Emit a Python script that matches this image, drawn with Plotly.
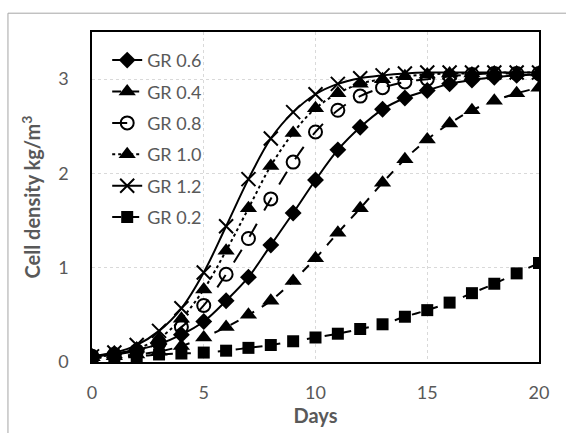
import plotly.graph_objects as go

days = list(range(0, 21))

gr_06 = [0.06, 0.09, 0.13, 0.19, 0.29, 0.43, 0.65, 0.90, 1.24, 1.58, 1.93,
         2.25, 2.49, 2.68, 2.80, 2.88, 2.95, 2.99, 3.02, 3.04, 3.05]
gr_04 = [0.05, 0.06, 0.08, 0.11, 0.17, 0.26, 0.37, 0.50, 0.65, 0.86, 1.10,
         1.37, 1.63, 1.90, 2.15, 2.36, 2.53, 2.67, 2.77, 2.85, 2.91]
gr_08 = [0.06, 0.08, 0.12, 0.20, 0.37, 0.60, 0.93, 1.31, 1.73, 2.12, 2.44,
         2.67, 2.82, 2.91, 2.97, 3.00, 3.03, 3.05, 3.06, 3.06, 3.06]
gr_10 = [0.05, 0.08, 0.14, 0.25, 0.46, 0.77, 1.18, 1.63, 2.08, 2.43, 2.69,
         2.85, 2.95, 3.00, 3.03, 3.05, 3.06, 3.06, 3.07, 3.07, 3.07]
gr_12 = [0.06, 0.10, 0.18, 0.33, 0.57, 0.95, 1.44, 1.94, 2.37, 2.65, 2.84,
         2.95, 3.01, 3.04, 3.06, 3.07, 3.07, 3.07, 3.07, 3.07, 3.07]
gr_02 = [0.04, 0.05, 0.06, 0.08, 0.09, 0.10, 0.12, 0.15, 0.18, 0.22, 0.26,
         0.30, 0.35, 0.40, 0.48, 0.55, 0.63, 0.73, 0.83, 0.94, 1.05]

x_ticks = [0, 5, 10, 15, 20]
y_ticks = [0, 1, 2, 3]

FONT = "Lato"
GRAY = "#595959"

series = [
    ("GR 0.6", gr_06, "solid", "diamond", 13, 0),
    ("GR 0.4", gr_04, "dash", "triangle-up", 15, 0),
    ("GR 0.8", gr_08, "longdash", "circle-open", 13, 2),
    ("GR 1.0", gr_10, "dot", "triangle-up", 15, 0),
    ("GR 1.2", gr_12, "solid", "x-thin-open", 14, 2),
    ("GR 0.2", gr_02, "dash", "square", 12, 0),
]

fig = go.Figure()
for i, (name, vals, dash, sym, size, lw) in enumerate(series):
    fig.add_trace(go.Scatter(
        x=days, y=vals, name=name, legendgroup=f"g{i}",
        mode="lines+markers",
        line=dict(color="black", width=2, dash=dash, shape="spline"),
        marker=dict(symbol=sym, size=size, color="black",
                    line=dict(color="black", width=lw)),
    ))

fig.update_layout(
    width=566, height=433,
    margin=dict(l=92, r=27, t=32, b=67),
    paper_bgcolor="white", plot_bgcolor="white",
    font=dict(family=FONT, color=GRAY, size=18),
    showlegend=True,
    legend=dict(
        x=0.034, y=0.97, xanchor="left", yanchor="top",
        bgcolor="rgba(255,255,255,0)", font=dict(size=18, color=GRAY),
        tracegroupgap=5, itemwidth=30,
    ),
    xaxis=dict(
        range=[0, 20], tickvals=x_ticks, showgrid=True,
        gridcolor="#d9d9d9", griddash="dot", gridwidth=1,
        showline=True, linecolor="black", linewidth=1.5, mirror=True,
        ticks="", zeroline=False, ticklabelstandoff=14,
        tickfont=dict(size=18, color=GRAY),
        title=dict(text="<b>Days</b>", font=dict(size=20, color=GRAY), standoff=4),
    ),
    yaxis=dict(
        range=[0, 3.5], tickvals=y_ticks, showgrid=True,
        gridcolor="#d9d9d9", griddash="dot", gridwidth=1,
        showline=True, linecolor="black", linewidth=1.5, mirror=True,
        ticks="", zeroline=False, ticklabelstandoff=18,
        tickfont=dict(size=18, color=GRAY),
        title=dict(text="<b>Cell density kg/m<sup>3</sup></b>",
                   font=dict(size=20, color=GRAY), standoff=12),
    ),
    shapes=[dict(type="rect", xref="paper", yref="paper",
                 x0=-0.188, x1=1.2, y0=-0.4, y1=1.057,
                 line=dict(color="#a6a6a6", width=1), layer="below")],
)

fig.write_html("out.html")
